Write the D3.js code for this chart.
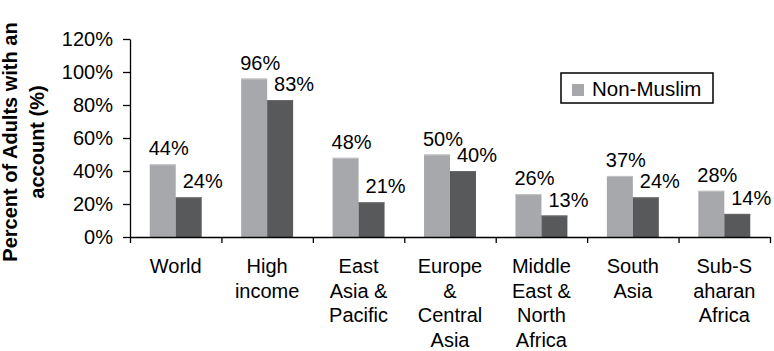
<!DOCTYPE html>
<html>
<head>
<meta charset="utf-8">
<script src="https://cdnjs.cloudflare.com/ajax/libs/d3/7.8.5/d3.min.js"></script>
<style>
    body { margin: 0; background: #fff; }
    svg text { font-family: "Liberation Sans", Arial, sans-serif; fill: #000; }
    .axis path, .axis line { stroke: #000; stroke-width: 1.3; }
</style>
</head>
<body>
<svg id="chart" width="774" height="351"></svg>
<script>
// data
let regions = ["World", "High income", "East Asia & Pacific", "Europe & Central Asia",
    "Middle East & North Africa", "South Asia", "Sub-Saharan Africa"];
let regionLines = [["World"], ["High", "income"], ["East", "Asia &", "Pacific"],
    ["Europe", "&", "Central", "Asia"], ["Middle", "East &", "North", "Africa"],
    ["South", "Asia"], ["Sub-S", "aharan", "Africa"]];
let nonMuslim = [44, 96, 48, 50, 26, 37, 28];
let muslim = [24, 83, 21, 40, 13, 24, 14];
let yTicks = [0, 20, 40, 60, 80, 100, 120];
let series = ["Non-Muslim", "Muslim"];
let colors = {"Non-Muslim": "#a7a8ab", "Muslim": "#58595b"};
let edges = {"Non-Muslim": "#c3c4c6", "Muslim": "#6a6b6d"};

let svg = d3.select("#chart");
let mLeft = 130, mRight = 770, mTop = 39, mBottom = 237;

let x0 = d3.scaleBand().domain(regions).range([mLeft, mRight]);
let x1 = d3.scaleBand().domain(series).range([0, x0.bandwidth()]).paddingOuter(0.76);
let y = d3.scaleLinear().domain([0, 120]).range([mBottom, mTop]);
// boundaries between the categories, for the x tick marks
let xEdge = d3.scaleLinear().domain([0, regions.length]).range([mLeft, mRight]);

let rows = regions.map(function (r, i) {
    return {region: r, lines: regionLines[i], values: [
        {key: "Non-Muslim", value: nonMuslim[i]},
        {key: "Muslim", value: muslim[i]}]};
});

// bars
let groups = svg.append("g").selectAll(".grp")
    .data(rows).enter().append("g")
    .attr("transform", d => `translate(${x0(d.region)},0)`);

groups.selectAll("rect")
    .data(d => d.values).enter().append("rect")
    .attr("x", d => x1(d.key))
    .attr("y", d => y(d.value))
    .attr("width", x1.bandwidth())
    .attr("height", d => mBottom - y(d.value))
    .attr("fill", d => colors[d.key]);

// thin lighter edge on top of each bar
groups.selectAll("line.edge")
    .data(d => d.values).enter().append("line")
    .attr("x1", d => x1(d.key))
    .attr("x2", d => x1(d.key) + x1.bandwidth())
    .attr("y1", d => y(d.value) + 0.5)
    .attr("y2", d => y(d.value) + 0.5)
    .attr("stroke", d => edges[d.key]);

// value labels
groups.selectAll("text.val")
    .data(d => d.values).enter().append("text")
    .attr("x", d => x1(d.key) + x1.bandwidth() / 2 + (d.key === "Muslim" ? 14 : 6))
    .attr("y", d => y(d.value) - 9)
    .attr("text-anchor", "middle")
    .style("font-size", "20px")
    .text(d => d.value + "%");

// y axis
svg.append("g").attr("class", "axis")
    .attr("transform", `translate(${mLeft},0)`)
    .call(d3.axisLeft(y).tickValues(yTicks).tickSize(7).tickSizeOuter(0).tickPadding(10)
        .tickFormat(d => d + "%"))
    .selectAll("text").style("font-size", "20px").style("font-family", "Liberation Sans, Arial, sans-serif");

// x axis with ticks at category boundaries
svg.append("g").attr("class", "axis")
    .attr("transform", `translate(0,${mBottom})`)
    .call(d3.axisBottom(xEdge).tickValues(d3.range(regions.length + 1)).tickSize(6)
        .tickSizeOuter(0).tickFormat(""));

// category labels
let labels = svg.append("g").selectAll(".cat")
    .data(rows).enter().append("text")
    .attr("text-anchor", "middle")
    .style("font-size", "20px");
labels.selectAll("tspan")
    .data(d => d.lines.map(l => ({line: l, region: d.region}))).enter().append("tspan")
    .attr("x", d => x0(d.region) + x0.bandwidth() / 2)
    .attr("y", (d, i) => 273 + i * 24.5)
    .text(d => d.line);

// axis title
let mid = (mTop + mBottom) / 2 + 4;
let title = svg.append("text")
    .attr("transform", `translate(0,${mid}) rotate(-90)`)
    .attr("text-anchor", "middle")
    .style("font-size", "20px")
    .style("font-weight", "bold");
title.append("tspan").attr("x", 0).attr("y", 17).text("Percent of Adults with an");
title.append("tspan").attr("x", 0).attr("y", 44).text("account (%)");

// legend (only the Non-Muslim entry is shown)
let legend = svg.append("g").attr("transform", "translate(561,73)");
legend.append("rect")
    .attr("width", 152).attr("height", 30)
    .attr("fill", "#fff").attr("stroke", "#000").attr("stroke-width", 1.5);
legend.append("rect")
    .attr("x", 11).attr("y", 11).attr("width", 12).attr("height", 12)
    .attr("fill", colors["Non-Muslim"]);
legend.append("text")
    .attr("x", 31).attr("y", 23)
    .style("font-size", "20.5px")
    .text(series[0]);
</script>
</body>
</html>
